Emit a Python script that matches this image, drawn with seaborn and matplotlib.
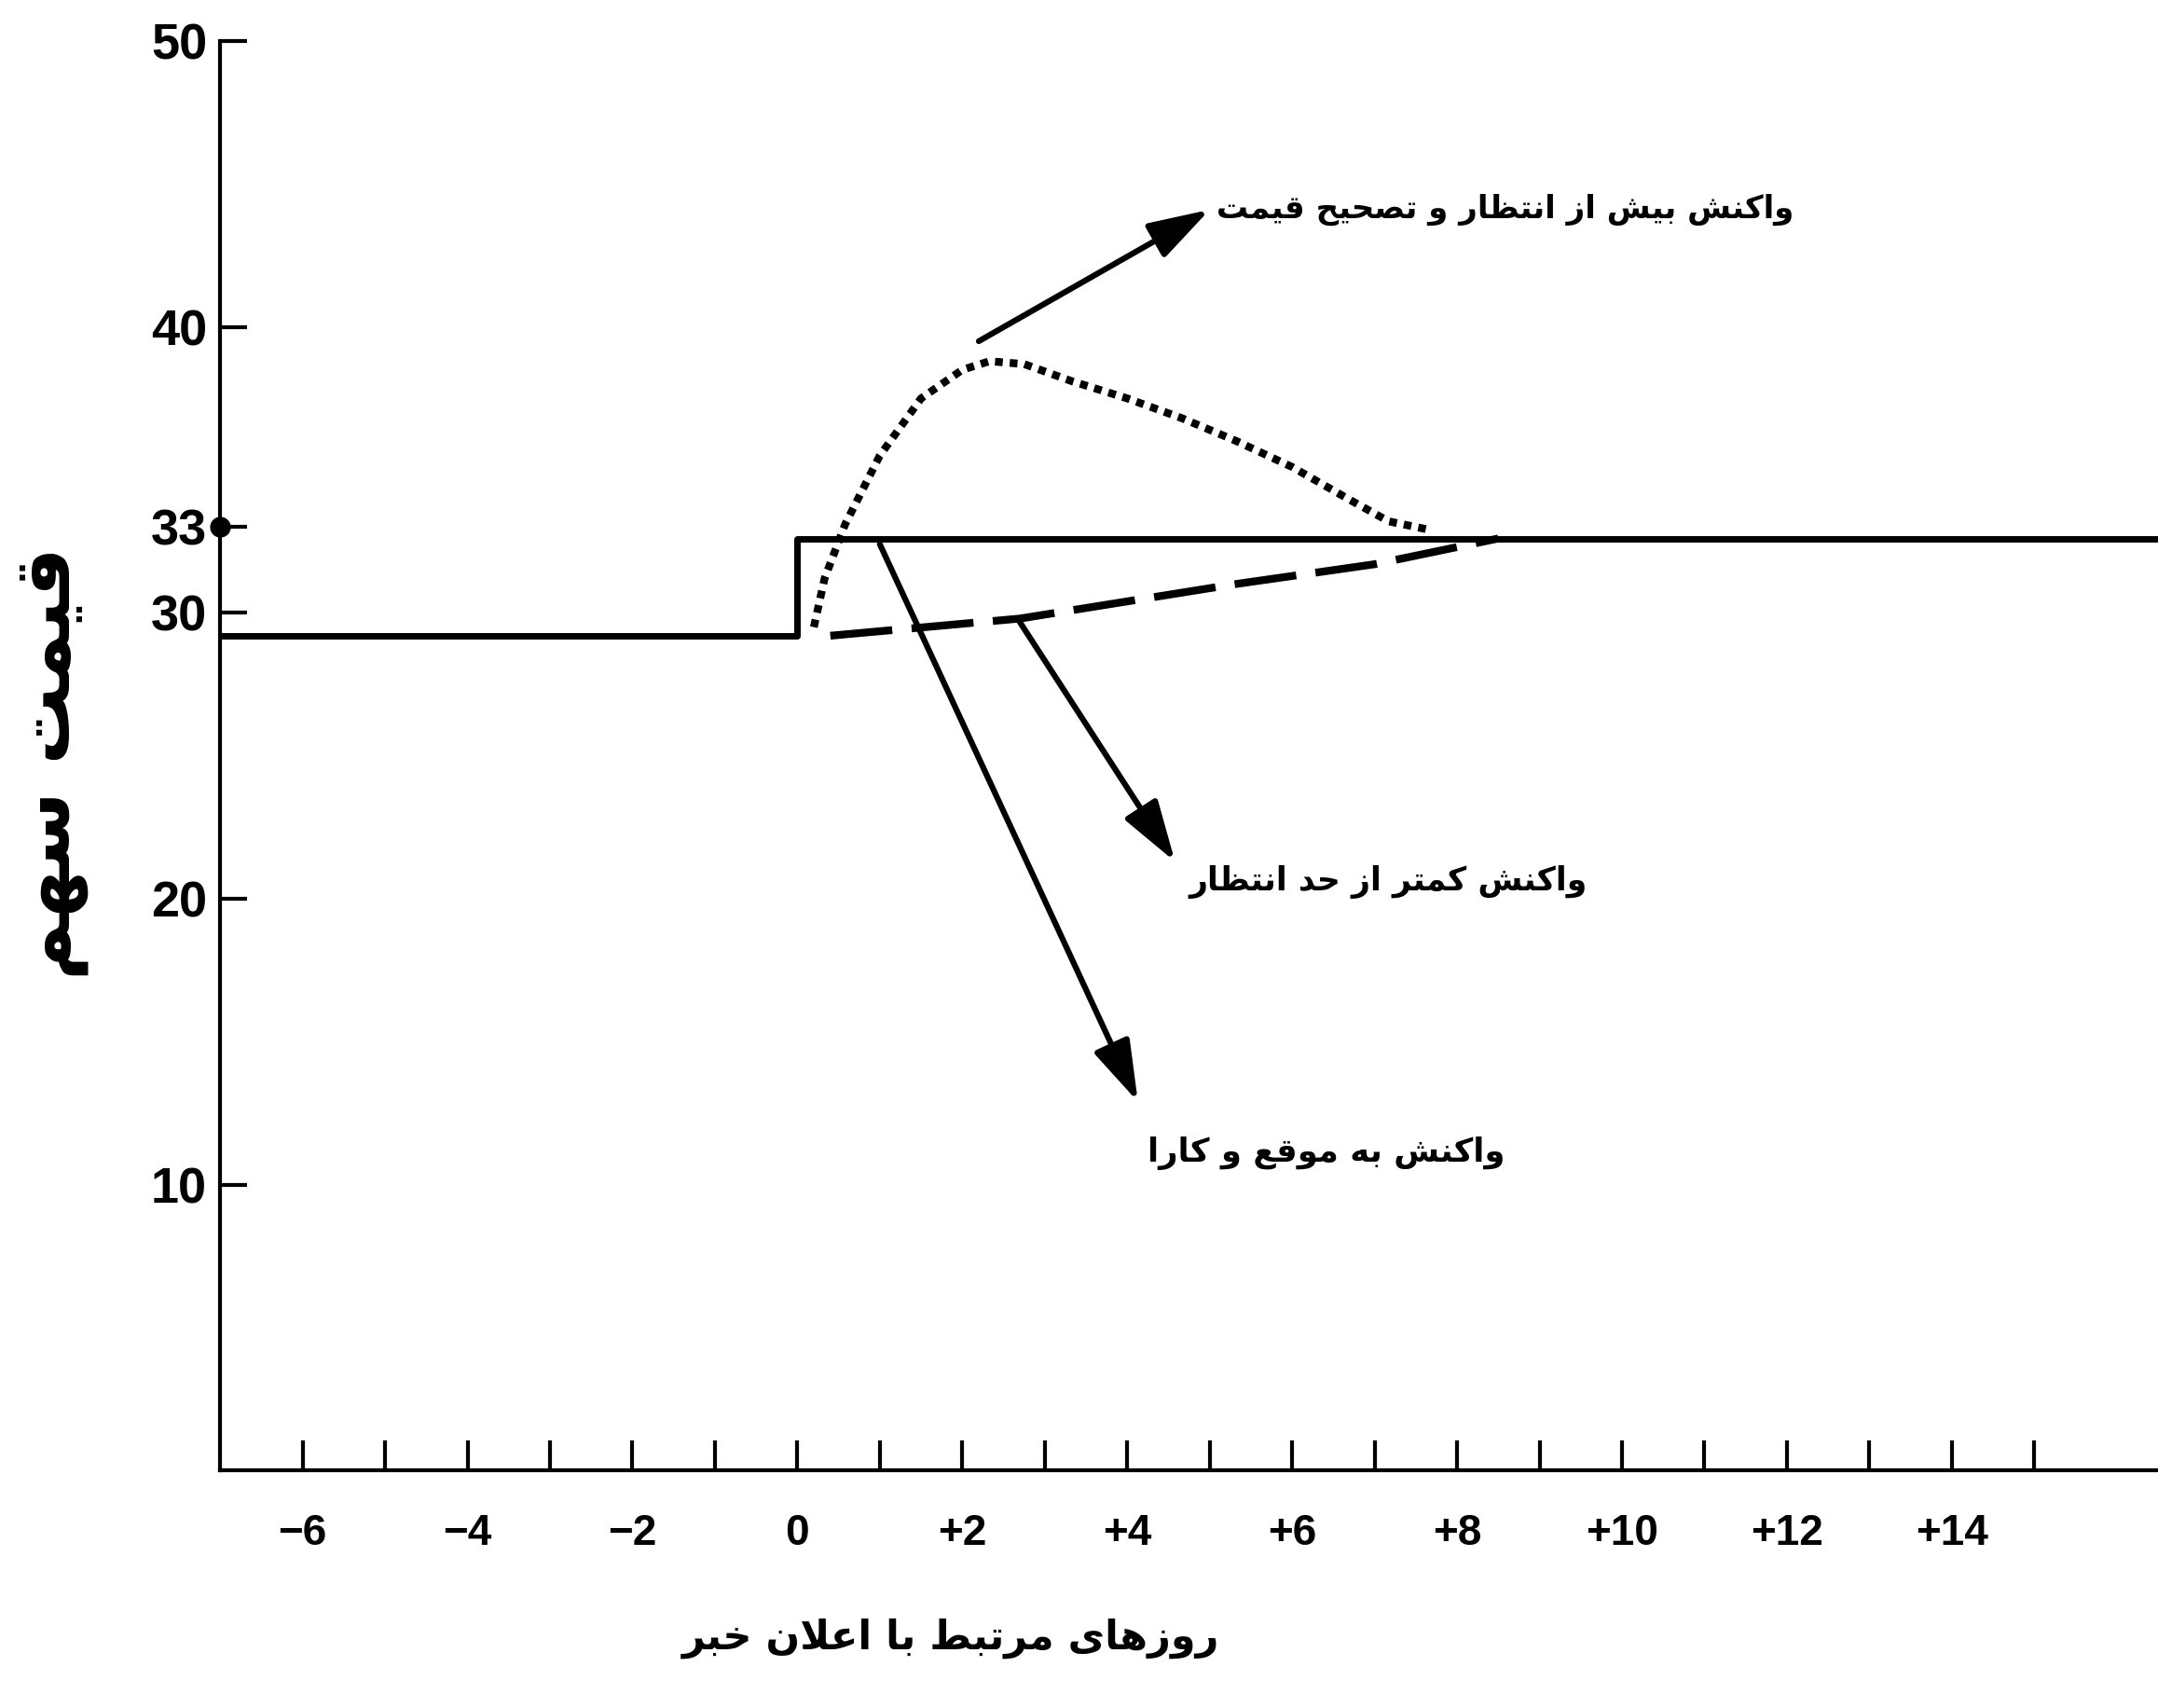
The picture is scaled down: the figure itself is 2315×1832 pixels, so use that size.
import matplotlib
matplotlib.use("Agg")
import matplotlib.pyplot as plt
import seaborn as sns

# efficient reaction (solid): flat, then jump at day 0
solid_days = [-7, 0, 0, 16.5]
solid_price = [29.2, 29.2, 32.6, 32.6]

# over-reaction and correction (dotted)
over_days = [0.2, 0.33, 0.58, 1.0, 1.5, 2.0, 2.33, 2.75, 3.33, 4.0, 4.67, 5.33, 6.0, 6.67, 7.17, 7.67]
over_price = [29.5, 31.2, 33.1, 35.5, 37.5, 38.5, 38.8, 38.7, 38.1, 37.5, 36.8, 36.0, 35.1, 34.0, 33.2, 32.9]

# under-reaction (dashed)
under_days = [0.4, 2.7, 5.3, 7.0, 8.5]
under_price = [29.2, 29.8, 31.0, 31.7, 32.6]

y_ticks = [10, 20, 30, 33, 40, 50]
x_ticks = list(range(-6, 16))
x_labels = ["−6", "", "−4", "", "−2", "", "0", "", "+2", "", "+4", "", "+6", "",
            "+8", "", "+10", "", "+12", "", "+14", ""]

txt_over = "واکنش بیش از انتظار و تصحیح قیمت"
txt_under = "واکنش کمتر از حد انتظار"
txt_eff = "واکنش به موقع و کارا"
txt_x = "روزهای مرتبط با اعلان خبر"
txt_y = "قیمت سهم"

# arabic presentation forms: isolated, final, initial, medial
FORMS = {
    'ا': ('\uFE8D', '\uFE8E', None, None),
    'ب': ('\uFE8F', '\uFE90', '\uFE91', '\uFE92'),
    'ت': ('\uFE95', '\uFE96', '\uFE97', '\uFE98'),
    'ح': ('\uFEA1', '\uFEA2', '\uFEA3', '\uFEA4'),
    'خ': ('\uFEA5', '\uFEA6', '\uFEA7', '\uFEA8'),
    'د': ('\uFEA9', '\uFEAA', None, None),
    'ر': ('\uFEAD', '\uFEAE', None, None),
    'ز': ('\uFEAF', '\uFEB0', None, None),
    'س': ('\uFEB1', '\uFEB2', '\uFEB3', '\uFEB4'),
    'ش': ('\uFEB5', '\uFEB6', '\uFEB7', '\uFEB8'),
    'ص': ('\uFEB9', '\uFEBA', '\uFEBB', '\uFEBC'),
    'ط': ('\uFEC1', '\uFEC2', '\uFEC3', '\uFEC4'),
    'ظ': ('\uFEC5', '\uFEC6', '\uFEC7', '\uFEC8'),
    'ع': ('\uFEC9', '\uFECA', '\uFECB', '\uFECC'),
    'ق': ('\uFED5', '\uFED6', '\uFED7', '\uFED8'),
    'ل': ('\uFEDD', '\uFEDE', '\uFEDF', '\uFEE0'),
    'م': ('\uFEE1', '\uFEE2', '\uFEE3', '\uFEE4'),
    'ن': ('\uFEE5', '\uFEE6', '\uFEE7', '\uFEE8'),
    'ه': ('\uFEE9', '\uFEEA', '\uFEEB', '\uFEEC'),
    'و': ('\uFEED', '\uFEEE', None, None),
    'ی': ('\uFBFC', '\uFBFD', '\uFBFE', '\uFBFF'),
    'ک': ('\uFB8E', '\uFB8F', '\uFB90', '\uFB91'),
}


def joins_next(c):
    return c in FORMS and FORMS[c][2] is not None


def shape(text):
    # join letters and put them in visual (left to right) order
    out = []
    i = 0
    while i < len(text):
        c = text[i]
        if c not in FORMS:
            out.append(c)
            i += 1
            continue
        link_prev = i > 0 and joins_next(text[i - 1])
        if c == 'ل' and i + 1 < len(text) and text[i + 1] == 'ا':
            out.append('\uFEFC' if link_prev else '\uFEFB')
            i += 2
            continue
        link_next = joins_next(c) and i + 1 < len(text) and text[i + 1] in FORMS
        iso, fin, ini, med = FORMS[c]
        if link_prev and link_next:
            out.append(med)
        elif link_prev:
            out.append(fin)
        elif link_next:
            out.append(ini)
        else:
            out.append(iso)
        i += 1
    return ''.join(reversed(out))


sns.set_style("ticks")
plt.rcParams['font.family'] = ['Liberation Sans', 'DejaVu Sans']
for key in ['text.color', 'axes.labelcolor', 'xtick.color', 'ytick.color', 'axes.edgecolor']:
    plt.rcParams[key] = 'black'
AR = ['DejaVu Sans']

fig = plt.figure(figsize=(23.15, 18.32), dpi=100)
ax = fig.add_axes([0.102, 0.139, 0.898, 0.837])

sns.lineplot(x=solid_days, y=solid_price, sort=False, estimator=None,
             color='black', lw=5, ax=ax)
sns.lineplot(x=over_days, y=over_price, sort=False, estimator=None,
             color='black', lw=6, linestyle=(0, (1, 0.9)), ax=ax)
sns.lineplot(x=under_days, y=under_price, sort=False, estimator=None,
             color='black', lw=6, linestyle=(0, (8, 2.5)), ax=ax)

# marker for 33 on the axis
ax.plot([-7], [33], 'o', color='black', ms=15, clip_on=False)

ax.set_xlim(-7, 16.5)
ax.set_ylim(0, 50)
ax.set_yticks(y_ticks)
ax.set_yticklabels([str(v) for v in y_ticks])
ax.set_xticks(x_ticks)
ax.set_xticklabels(x_labels)
ax.tick_params(axis='y', direction='in', length=21, width=3, pad=10, labelsize=39)
ax.tick_params(axis='x', direction='in', length=23, width=3, pad=33, labelsize=33)
for lab in ax.get_xticklabels() + ax.get_yticklabels():
    lab.set_fontweight('bold')

sns.despine(ax=ax)
ax.spines['left'].set_linewidth(3)
ax.spines['bottom'].set_linewidth(3)

arrow = dict(arrowstyle='-|>,head_length=0.8,head_width=0.25', lw=4.5,
             color='black', mutation_scale=50, shrinkA=0, shrinkB=0)
ax.annotate('', xy=(5.0, 44.1), xytext=(2.2, 39.5), arrowprops=arrow)
ax.annotate('', xy=(4.58, 21.3), xytext=(2.67, 29.8), arrowprops=arrow)
ax.annotate('', xy=(4.13, 12.9), xytext=(1.0, 32.4), arrowprops=arrow)

ax.text(5.08, 44.1, shape(txt_over), ha='left', va='center', fontsize=24.5,
        fontweight='bold', family=AR)
ax.text(4.75, 20.6, shape(txt_under), ha='left', va='center', fontsize=25,
        fontweight='bold', family=AR)
ax.text(4.25, 11.1, shape(txt_eff), ha='left', va='center', fontsize=25.5,
        fontweight='bold', family=AR)

ax.set_xlabel(shape(txt_x), fontsize=31, fontweight='bold', family=AR)
ax.xaxis.set_label_coords(0.377, -0.103)
ax.set_ylabel(shape(txt_y), fontsize=60, fontweight='bold', family=AR)
ax.yaxis.set_label_coords(-0.068, 0.495)

fig.savefig("out.png", dpi=100)
